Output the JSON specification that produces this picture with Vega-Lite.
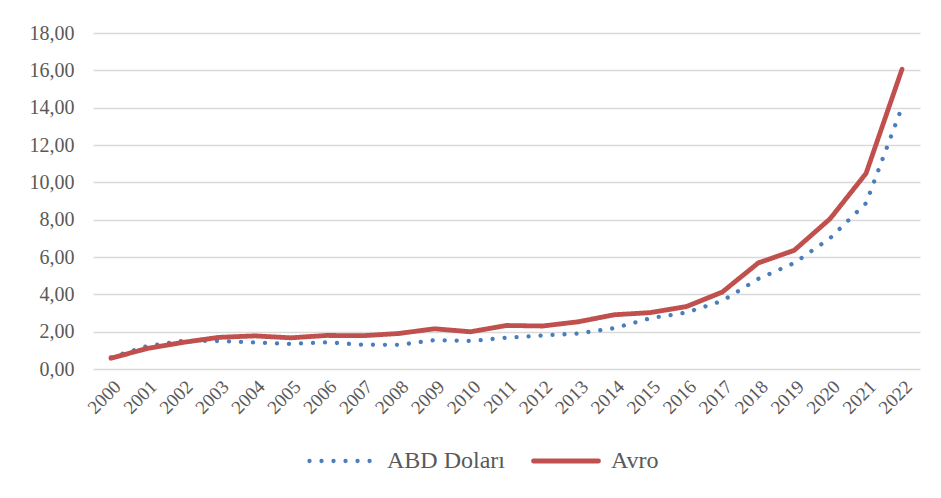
{
  "$schema": "https://vega.github.io/schema/vega-lite/v6.json",
  "autosize": "none",
  "width": 827,
  "height": 336,
  "padding": {"left": 93, "top": 33, "right": 21, "bottom": 129},
  "background": "white",
  "config": {
    "view": {"stroke": null},
    "font": "Liberation Serif",
    "axis": {"labelFont": "Liberation Serif", "labelColor": "#595959", "gridColor": "#d9d9d9", "gridWidth": 1.5, "domain": false, "ticks": false},
    "legend": {"labelFont": "Liberation Serif", "labelColor": "#595959"}
  },
  "data": {
    "values": [
      {"yil": "2000", "seri": "ABD Doları", "deger": 0.625},
      {"yil": "2001", "seri": "ABD Doları", "deger": 1.225},
      {"yil": "2002", "seri": "ABD Doları", "deger": 1.507},
      {"yil": "2003", "seri": "ABD Doları", "deger": 1.501},
      {"yil": "2004", "seri": "ABD Doları", "deger": 1.426},
      {"yil": "2005", "seri": "ABD Doları", "deger": 1.344},
      {"yil": "2006", "seri": "ABD Doları", "deger": 1.43},
      {"yil": "2007", "seri": "ABD Doları", "deger": 1.303},
      {"yil": "2008", "seri": "ABD Doları", "deger": 1.293},
      {"yil": "2009", "seri": "ABD Doları", "deger": 1.547},
      {"yil": "2010", "seri": "ABD Doları", "deger": 1.503},
      {"yil": "2011", "seri": "ABD Doları", "deger": 1.675},
      {"yil": "2012", "seri": "ABD Doları", "deger": 1.792},
      {"yil": "2013", "seri": "ABD Doları", "deger": 1.904},
      {"yil": "2014", "seri": "ABD Doları", "deger": 2.189},
      {"yil": "2015", "seri": "ABD Doları", "deger": 2.72},
      {"yil": "2016", "seri": "ABD Doları", "deger": 3.021},
      {"yil": "2017", "seri": "ABD Doları", "deger": 3.648},
      {"yil": "2018", "seri": "ABD Doları", "deger": 4.828},
      {"yil": "2019", "seri": "ABD Doları", "deger": 5.674},
      {"yil": "2020", "seri": "ABD Doları", "deger": 7.009},
      {"yil": "2021", "seri": "ABD Doları", "deger": 8.886},
      {"yil": "2022", "seri": "ABD Doları", "deger": 14.04},
      {"yil": "2000", "seri": "Avro", "deger": 0.574},
      {"yil": "2001", "seri": "Avro", "deger": 1.097},
      {"yil": "2002", "seri": "Avro", "deger": 1.424},
      {"yil": "2003", "seri": "Avro", "deger": 1.695},
      {"yil": "2004", "seri": "Avro", "deger": 1.773},
      {"yil": "2005", "seri": "Avro", "deger": 1.671},
      {"yil": "2006", "seri": "Avro", "deger": 1.797},
      {"yil": "2007", "seri": "Avro", "deger": 1.783},
      {"yil": "2008", "seri": "Avro", "deger": 1.901},
      {"yil": "2009", "seri": "Avro", "deger": 2.155},
      {"yil": "2010", "seri": "Avro", "deger": 1.994},
      {"yil": "2011", "seri": "Avro", "deger": 2.331},
      {"yil": "2012", "seri": "Avro", "deger": 2.303},
      {"yil": "2013", "seri": "Avro", "deger": 2.53},
      {"yil": "2014", "seri": "Avro", "deger": 2.906},
      {"yil": "2015", "seri": "Avro", "deger": 3.021},
      {"yil": "2016", "seri": "Avro", "deger": 3.343},
      {"yil": "2017", "seri": "Avro", "deger": 4.121},
      {"yil": "2018", "seri": "Avro", "deger": 5.68},
      {"yil": "2019", "seri": "Avro", "deger": 6.356},
      {"yil": "2020", "seri": "Avro", "deger": 8.05},
      {"yil": "2021", "seri": "Avro", "deger": 10.48},
      {"yil": "2022", "seri": "Avro", "deger": 16.06}
    ]
  },
  "mark": {"type": "line", "strokeCap": "round", "strokeJoin": "round"},
  "encoding": {
    "x": {
      "field": "yil", "type": "ordinal",
      "scale": {"type": "point", "padding": 0.5},
      "axis": {"title": null, "labelAngle": -45, "labelFontSize": 19, "labelPadding": 8, "grid": false}
    },
    "y": {
      "field": "deger", "type": "quantitative",
      "scale": {"domain": [0, 18], "nice": false},
      "axis": {"title": null, "values": [0, 2, 4, 6, 8, 10, 12, 14, 16, 18], "labelExpr": "replace(format(datum.value, '.2f'), '.', ',')", "labelFontSize": 20, "labelPadding": 19}
    },
    "color": {
      "field": "seri", "type": "nominal",
      "scale": {"domain": ["ABD Doları", "Avro"], "range": ["#4a7ebb", "#c0504d"]},
      "legend": {
        "title": null, "orient": "none", "legendX": 214, "legendY": 393, "direction": "horizontal",
        "symbolType": "stroke", "symbolSize": 4225, "symbolStrokeWidth": 4.5,
        "labelFontSize": 24, "labelOffset": 10, "columnPadding": 18,
        "encode": {"symbols": {"update": {"strokeCap": {"value": "round"}}}}
      }
    },
    "strokeDash": {
      "field": "seri", "type": "nominal",
      "scale": {"domain": ["ABD Doları", "Avro"], "range": [[0.01, 12], [1, 0]]},
      "legend": {
        "title": null, "orient": "none", "legendX": 214, "legendY": 393, "direction": "horizontal",
        "symbolType": "stroke", "symbolSize": 4225, "symbolStrokeWidth": 4.5,
        "labelFontSize": 24, "labelOffset": 10, "columnPadding": 18,
        "encode": {"symbols": {"update": {"strokeCap": {"value": "round"}}}}
      }
    },
    "strokeWidth": {
      "field": "seri", "type": "nominal",
      "scale": {"domain": ["ABD Doları", "Avro"], "range": [4.3, 4.8]},
      "legend": null
    }
  }
}
